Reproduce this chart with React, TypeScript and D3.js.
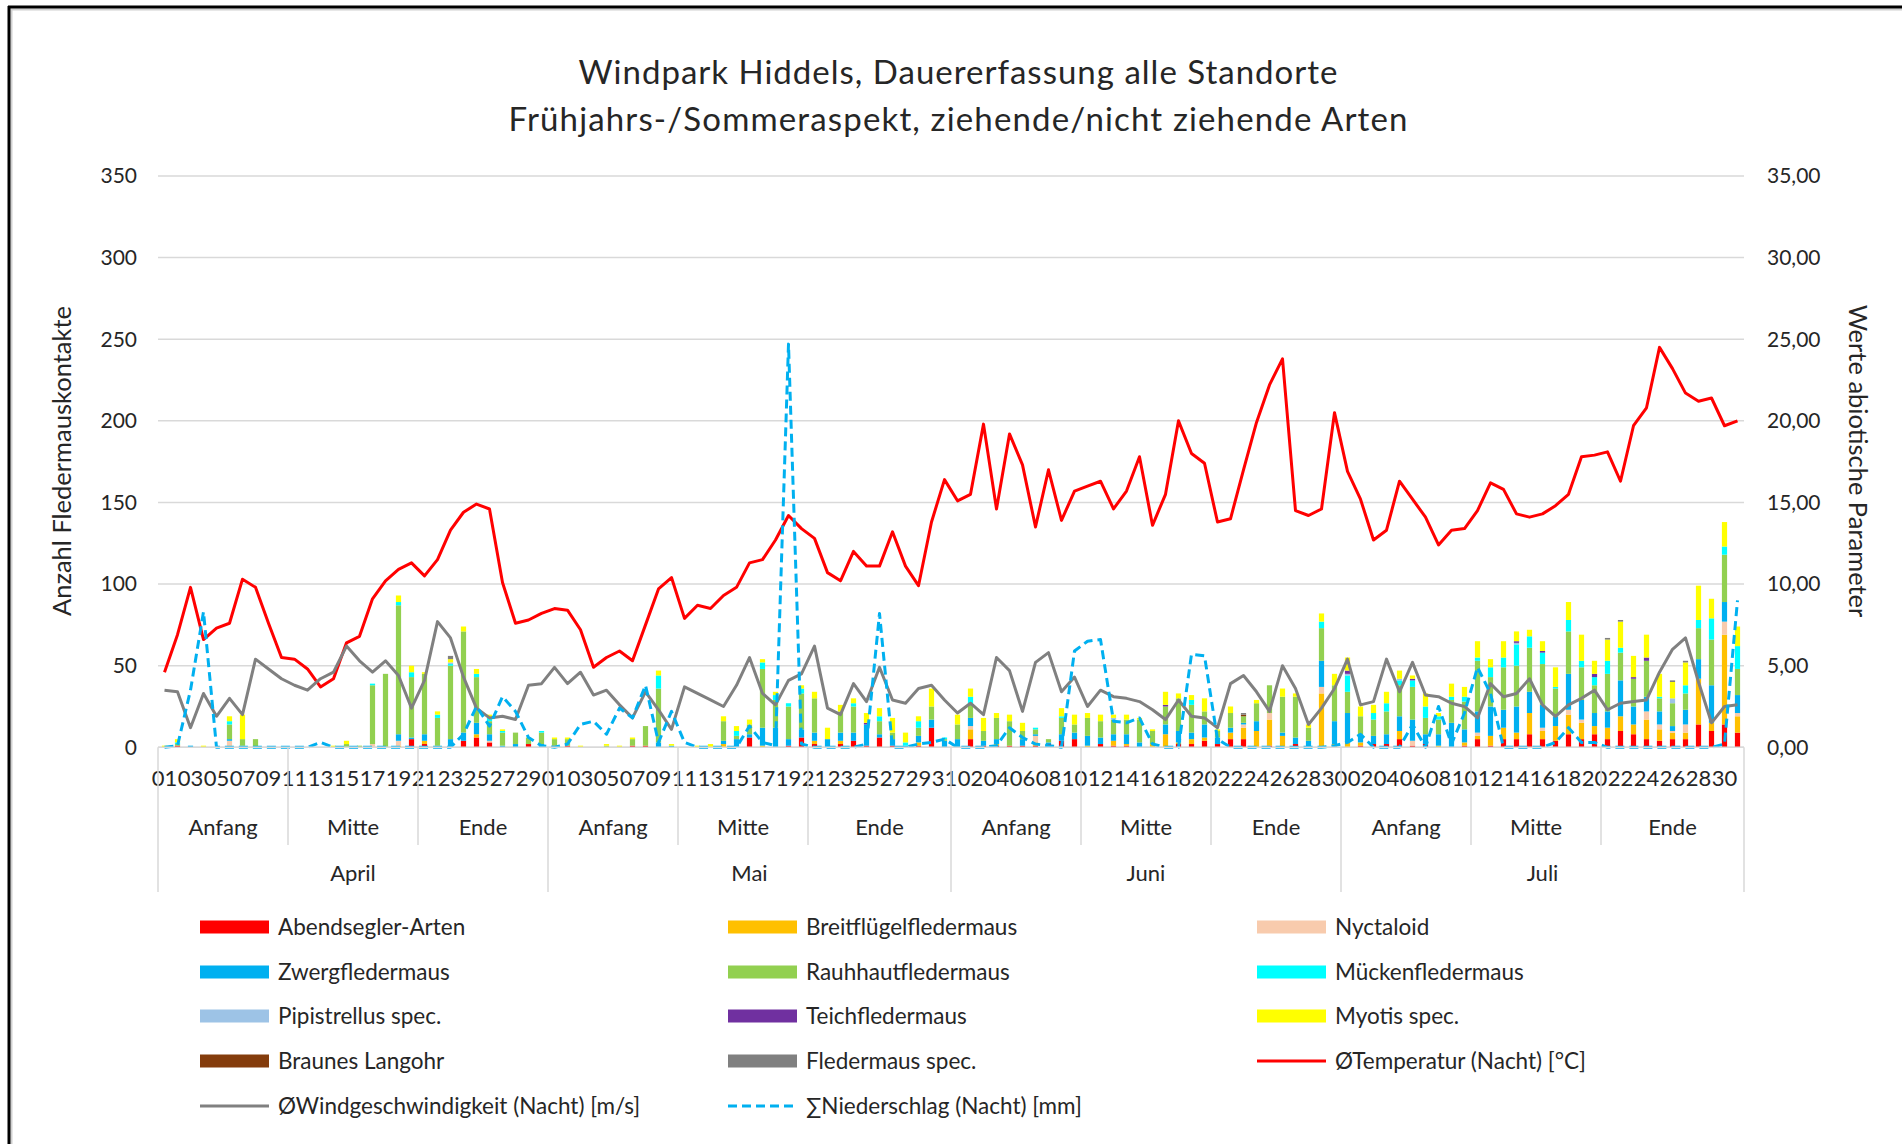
import React from 'react';
import * as d3 from 'd3';

// ---------- categories ----------
const months = ['April', 'Mai', 'Juni', 'Juli'];
const monthDays = [30, 31, 30, 31];
const periods = ['Anfang', 'Mitte', 'Ende'];
const periodStarts = [1, 11, 21];
const yTicks = [0, 50, 100, 150, 200, 250, 300, 350];
const y2Ticks = [0, 5, 10, 15, 20, 25, 30, 35];

// ---------- species (bat contacts per night) ----------
const abendsegler = [
  0,1,0,0,0,0,0,0,0,0, 0,0,0,0,0,0,0,0,0,5, 2,0,0,4,6,3,0,0,2,0,
  1,1,0,0,0,0,1,1,0,0, 0,0,0,0,0,6,0,0,1,6, 2,0,2,4,1,6,1,0,1,12, 0,
  0,5,1,1,1,1,1,2,4, 5,0,2,1,1,0,0,0,2,2, 4,2,5,5,0,1,0,2,0,0, 0,
  0,1,2,2,5,1,2,0,0, 1,5,1,5,5,8,5,4,8,5, 8,5,10,8,5,4,5,5,14,10, 14,9
];
const breitfluegel = [
  0,0,0,0,0,1,1,0,0,0, 0,0,0,0,0,0,0,0,1,0, 2,1,0,0,2,0,0,0,0,0,
  0,0,0,0,0,0,0,0,0,0, 0,0,0,2,0,0,1,0,0,0, 2,0,2,0,0,0,0,0,2,0, 0,
  0,6,0,1,0,0,2,0,0, 0,1,0,3,1,0,2,8,1,3, 2,0,4,7,10,16,7,0,0,33, 2,
  3,2,0,0,5,0,0,1,0, 2,2,6,7,4,13,5,9,12,10, 5,7,9,6,12,7,4,4,28,5, 55,10
];
const nyctaloid = [
  0,0,0,0,0,3,0,0,0,0, 0,0,0,0,0,0,2,0,3,0, 0,0,0,0,0,1,0,0,0,0,
  0,0,0,0,0,0,0,0,0,0, 0,0,0,0,0,0,0,0,0,0, 0,0,0,0,0,0,0,0,0,0, 0,
  0,2,0,0,0,0,4,0,0, 0,0,0,0,0,0,0,0,0,0, 0,0,0,2,0,4,0,0,0,4, 0,
  0,0,0,0,0,3,0,0,0, 0,2,0,0,0,0,2,0,3,2, 0,0,0,0,5,3,1,5,0,0, 8,2
];
const zwerg = [
  0,0,1,0,0,1,0,0,0,0, 0,0,0,0,0,0,0,0,4,1, 4,0,5,5,7,4,1,2,0,2,
  0,0,0,0,0,0,0,0,3,1, 0,0,0,2,5,2,11,12,4,5, 5,5,5,5,13,2,4,1,4,5, 4,
  5,5,3,3,0,4,1,1,4, 4,6,4,4,6,3,0,6,7,4, 8,4,3,1,6,0,2,4,4,16, 14,
  18,5,5,6,9,13,6,7,15, 8,13,18,11,16,13,14,6,22,12, 8,10,22,11,9,8,3,9,12,23, 12,11
];
const rauhhaut = [
  0,1,0,0,0,9,4,5,0,0, 0,0,0,0,2,1,36,45,79,37, 37,17,45,62,28,8,8,7,4,7,
  4,4,0,0,1,0,4,12,33,0, 0,0,0,12,2,6,36,17,20,22, 21,0,13,16,0,8,4,0,5,8, 1,
  9,8,6,13,15,5,3,2,10, 5,11,10,9,9,14,8,11,20,17, 8,4,9,4,11,17,22,25,8,20, 22,
  13,11,10,14,19,20,10,9,14, 17,31,18,26,25,27,25,17,26,20, 17,23,17,17,22,8,14,10,19,28, 29,16
];
const muecken = [
  0,1,0,0,0,2,0,0,0,0, 0,0,0,0,0,0,1,0,2,3, 0,2,1,0,2,2,1,0,0,1,
  0,0,0,0,0,0,0,0,8,0, 0,0,0,0,3,0,4,3,2,3, 0,0,0,2,0,3,0,2,4,0, 1,
  0,5,0,0,0,0,1,0,1, 0,0,0,0,0,0,0,0,0,3, 0,0,0,0,0,0,0,0,0,4, 0,
  10,0,4,5,3,4,7,2,2, 3,2,6,6,13,7,7,1,7,4, 5,8,3,0,0,1,0,5,5,13, 5,14
];
const pipistrellus = [
  0,0,0,0,0,0,0,0,0,0, 0,0,0,0,0,0,0,0,0,0, 0,0,1,0,0,0,0,0,0,0,
  0,0,0,0,0,0,0,0,0,0, 0,0,0,0,0,0,0,0,0,0, 0,0,0,0,0,0,0,0,0,0, 0,
  0,0,0,0,0,0,0,0,0, 0,0,0,1,0,0,0,0,0,0, 0,0,0,0,0,0,0,0,0,0, 0,
  1,0,0,0,1,0,0,0,0, 0,0,0,0,1,0,0,0,0,0, 0,0,0,0,0,0,3,0,0,0, 0,0
];
const teich = [
  0,0,0,0,0,0,0,0,0,0, 0,0,0,0,0,0,0,0,0,0, 0,0,0,0,0,0,0,0,0,0,
  0,0,0,0,0,0,0,0,0,0, 0,0,0,0,0,0,0,0,0,0, 0,0,0,0,1,0,0,0,0,0, 0,
  0,0,0,0,0,0,0,0,0, 0,0,0,0,0,0,0,1,0,0, 0,0,0,0,0,0,0,0,0,0, 0,
  2,0,0,0,0,1,0,0,0, 0,0,0,0,1,0,1,0,0,0, 2,0,0,1,2,0,0,0,0,0, 0,0
];
const myotis = [
  1,2,0,1,0,3,15,0,0,0, 0,0,0,1,2,0,0,0,4,4, 1,2,2,3,3,2,1,0,0,0,
  1,1,1,0,1,1,1,0,3,1, 0,1,2,3,3,3,2,2,0,2, 4,7,4,3,6,5,9,6,3,11, 0,
  6,5,8,3,4,5,0,0,5, 6,3,4,2,3,1,1,8,3,3, 8,1,4,0,2,0,5,2,2,5, 7,
  8,6,5,7,5,2,8,2,8, 6,10,5,10,6,4,6,12,11,16, 8,13,16,13,14,14,10,14,21,12, 15,12
];
const langohr = [
  0,0,0,0,0,0,0,0,0,0, 0,0,0,0,0,0,0,0,0,0, 0,0,0,0,0,0,0,0,0,0,
  0,0,0,0,0,0,0,0,0,0, 0,0,0,0,0,0,0,0,0,0, 0,0,0,0,0,0,0,0,0,0, 0,
  0,0,0,0,0,0,0,0,0, 0,0,0,0,0,0,0,0,0,0, 0,0,0,1,0,0,0,0,0,0, 0,
  0,0,0,0,0,0,0,0,0, 0,0,0,0,0,0,0,0,0,0, 0,0,0,0,0,0,0,0,0,0, 0,0
];
const fledermausSpec = [
  0,0,0,0,0,0,0,0,0,0, 0,0,0,0,0,0,0,0,0,0, 0,0,2,0,0,0,0,0,0,0,
  0,0,0,0,0,0,0,0,0,0, 0,0,0,0,0,0,0,0,0,0, 0,0,0,0,0,0,0,0,0,0, 0,
  0,0,0,0,0,0,0,0,0, 0,0,0,0,0,0,0,0,0,0, 0,0,0,1,0,0,0,0,0,0, 0,
  0,0,0,0,0,0,0,0,0, 0,0,0,0,0,0,0,0,0,0, 0,1,1,0,0,0,1,1,0,0, 0,0
];

// ---------- abiotic parameters ----------
const temperature = [
  4.6,6.9,9.8,6.6,7.3,7.6,10.3,9.8,7.6,5.5, 5.4,4.8,3.7,4.2,6.4,6.8,9.1,10.2,10.9,11.3,
  10.5,11.5,13.3,14.4,14.9,14.6,10.1,7.6,7.8,8.2,
  8.5,8.4,7.2,4.9,5.5,5.9,5.3,7.5,9.7,10.4, 7.9,8.7,8.5,9.3,9.8,11.3,11.5,12.7,14.2,13.4,
  12.8,10.7,10.2,12.0,11.1,11.1,13.2,11.1,9.9,13.8, 16.4,
  15.1,15.5,19.8,14.6,19.2,17.3,13.5,17.0,13.9, 15.7,16.0,16.3,14.6,15.7,17.8,13.6,15.5,20.0,18.0,
  17.4,13.8,14.0,17.0,19.9,22.2,23.8,14.5,14.2,14.6, 20.5,
  16.9,15.2,12.7,13.3,16.3,15.2,14.1,12.4,13.3, 13.4,14.5,16.2,15.8,14.3,14.1,14.3,14.8,15.5,17.8,
  17.9,18.1,16.3,19.7,20.8,24.5,23.2,21.7,21.2,21.4, 19.7,20.0
];
const wind = [
  3.5,3.4,1.2,3.3,1.9,3.0,2.0,5.4,4.8,4.2, 3.8,3.5,4.2,4.6,6.2,5.3,4.6,5.3,4.4,2.4,
  4.1,7.7,6.7,4.3,2.4,1.8,1.9,1.7,3.8,3.9,
  4.9,3.9,4.6,3.2,3.5,2.6,1.8,3.4,2.3,1.1, 3.7,3.3,2.9,2.5,3.8,5.5,3.3,2.6,4.1,4.5,
  6.2,2.4,2.0,3.9,2.8,4.9,2.9,2.7,3.6,3.8, 2.9,
  2.1,2.7,2.0,5.5,4.7,2.2,5.2,5.8,3.4, 4.3,2.5,3.5,3.1,3.0,2.8,2.3,1.7,2.9,1.9,
  1.8,1.2,3.9,4.4,3.4,2.2,5.0,3.6,1.4,2.4, 3.6,
  5.4,2.6,2.8,5.4,3.4,5.2,3.2,3.1,2.7, 2.5,1.8,3.9,3.1,3.3,4.2,2.6,1.9,2.6,3.0,
  3.5,2.3,2.7,2.8,2.9,4.6,6.0,6.7,4.0,1.5, 2.5,2.6
];
const precipitation = [
  0,0.1,3.5,8.3,0,0,0,0,0,0, 0,0,0.3,0,0,0,0,0,0,0, 0,0,0,0.8,2.5,1.3,3.1,2.2,0.6,0.1,
  0,0.2,1.4,1.6,0.8,2.4,1.8,3.8,0.3,2.2, 0.3,0,0,0,0,1.3,0.3,0.1,24.7,0.2,
  0,0,0,0,0.2,8.2,0,0,0.2,0.3, 0.5,
  0,0,0,0.1,1.2,0.6,0.2,0.1,0, 5.9,6.5,6.6,1.6,1.5,1.8,0.2,0,0,5.7,
  5.6,0.5,0,0,0,0,0,0,0,0, 0.1,
  0.3,0.8,0,0,0,1.4,0,2.5,0.2, 2.1,4.9,3.3,0,0,0,0,0.3,1.2,0.3,
  0.3,0,0,0,0,0,0,0,0,0, 0.2,9.0
];

const speciesNames = [
  'Abendsegler-Arten', 'Breitflügelfledermaus', 'Nyctaloid', 'Zwergfledermaus', 'Rauhhautfledermaus',
  'Mückenfledermaus', 'Pipistrellus spec.', 'Teichfledermaus', 'Myotis spec.', 'Braunes Langohr', 'Fledermaus spec.'
];
const speciesData = [abendsegler, breitfluegel, nyctaloid, zwerg, rauhhaut, muecken, pipistrellus, teich, myotis, langohr, fledermausSpec];
const speciesColors = ['#FF0000', '#FFC000', '#F8CBAD', '#00B0F0', '#92D050', '#00FFFF', '#9DC3E6', '#7030A0', '#FFFF00', '#843C0C', '#808080'];
const lineNames = ['ØTemperatur (Nacht) [°C]', 'ØWindgeschwindigkeit (Nacht) [m/s]', '∑Niederschlag (Nacht) [mm]'];
const lineColors = ['#FF0000', '#808080', '#00B0F0'];

const FONT = 'Lato, "Open Sans", sans-serif';
const TXT = '#262626';

export default function App() {
  const W = 1902, H = 1144;
  const left = 158, right = 1744, top = 176, bottom = 747.3;

  const days: { m: number; d: number }[] = [];
  months.forEach((_, mi) => {
    for (let d = 1; d <= monthDays[mi]; d++) days.push({ m: mi, d });
  });
  const n = days.length;

  const x = d3.scaleBand<number>().domain(d3.range(n)).range([left, right]).padding(0);
  const bw = x.bandwidth();
  const barW = bw / 2.5;
  const y = d3.scaleLinear().domain([0, 350]).range([bottom, top]);
  const y2 = d3.scaleLinear().domain([0, 35]).range([bottom, top]);

  const keys = speciesNames.map((_, k) => 'k' + k);
  const rows = days.map((_, i) => {
    const r: Record<string, number> = {};
    speciesData.forEach((arr, k) => (r['k' + k] = arr[i] || 0));
    return r;
  });
  const series = d3.stack<Record<string, number>>().keys(keys)(rows);

  const cx = (i: number) => (x(i) as number) + bw / 2;
  const line = d3.line<number>().x((_, i) => cx(i)).y(v => y2(v)).curve(d3.curveLinear);

  const monthStart: number[] = [];
  let acc = 0;
  monthDays.forEach(md => { monthStart.push(acc); acc += md; });

  const legendItems = [
    ...speciesNames.map((name, k) => ({ name, color: speciesColors[k], kind: 'bar', dash: false })),
    ...lineNames.map((name, k) => ({ name, color: lineColors[k], kind: 'line', dash: k === 2 })),
  ];
  const legColX = [200, 728, 1257];
  const legRowY = [927, 972, 1016, 1061, 1106];

  return (
    <svg width={W} height={H} style={{ position: 'absolute', left: 0, top: 0, background: '#fff' }} fontFamily={FONT}>
      <rect x={0} y={0} width={W} height={H} fill="#fff" />
      {/* frame */}
      <line x1={10.5} y1={9.5} x2={W} y2={9.5} stroke="#d0d0d0" strokeWidth={2} />
      <line x1={11.5} y1={9} x2={11.5} y2={H} stroke="#d0d0d0" strokeWidth={2} />
      <line x1={8} y1={7} x2={W} y2={7} stroke="#000" strokeWidth={3} />
      <line x1={9} y1={6} x2={9} y2={H} stroke="#000" strokeWidth={3} />

      {/* title */}
      <text x={958} y={84} textAnchor="middle" fontSize={33} fill={TXT} textLength={759} lengthAdjust="spacing">Windpark Hiddels, Dauererfassung alle Standorte</text>
      <text x={958} y={131} textAnchor="middle" fontSize={33} fill={TXT} textLength={899} lengthAdjust="spacing">Frühjahrs-/Sommeraspekt, ziehende/nicht ziehende Arten</text>

      {/* gridlines */}
      {yTicks.map(t => (
        <line key={'g' + t} x1={left} x2={right} y1={y(t)} y2={y(t)} stroke="#d9d9d9" strokeWidth={1.5} />
      ))}
      {yTicks.map(t => (
        <text key={'l' + t} x={137} y={y(t)} dy="0.35em" textAnchor="end" fontSize={21} fill={TXT}>{t}</text>
      ))}
      {y2Ticks.map(t => (
        <text key={'r' + t} x={1767} y={y2(t)} dy="0.35em" textAnchor="start" fontSize={21} fill={TXT}>{t.toFixed(2).replace('.', ',')}</text>
      ))}
      {/* axis titles */}
      <text transform={`translate(62,461) rotate(-90)`} textAnchor="middle" dy="0.35em" fontSize={25.5} fill={TXT}>Anzahl Fledermauskontakte</text>
      <text transform={`translate(1858,461) rotate(90)`} textAnchor="middle" dy="0.35em" fontSize={25.5} fill={TXT}>Werte abiotische Parameter</text>

      {/* bars */}
      {series.map((s, k) => (
        <g key={'s' + k} fill={speciesColors[k]}>
          {s.map((d, i) => {
            const h = y(d[0]) - y(d[1]);
            if (h <= 0) return null;
            return <rect key={i} x={(x(i) as number) + (bw - barW) / 2} y={y(d[1])} width={barW} height={h} />;
          })}
        </g>
      ))}

      {/* lines */}
      <path d={line(temperature) || ''} fill="none" stroke={lineColors[0]} strokeWidth={3} strokeLinejoin="round" />
      <path d={line(wind) || ''} fill="none" stroke={lineColors[1]} strokeWidth={3} strokeLinejoin="round" />
      <path d={line(precipitation) || ''} fill="none" stroke={lineColors[2]} strokeWidth={3} strokeDasharray="9,5" strokeLinejoin="round" />

      {/* category axis */}
      <line x1={left} x2={right} y1={bottom} y2={bottom} stroke="#d9d9d9" strokeWidth={1.5} />
      {days.map((dd, i) => (i % 2 === 0 ? (
        <text key={'d' + i} x={cx(i)} y={778} dy="0.35em" textAnchor="middle" fontSize={22} fill={TXT}>{String(dd.d).padStart(2, '0')}</text>
      ) : null))}
      {months.map((m, mi) => {
        const s = monthStart[mi];
        const e = s + monthDays[mi];
        const x0 = x(s) as number;
        const x1 = e >= n ? right : (x(e) as number);
        return (
          <g key={'m' + mi}>
            <line x1={x0} x2={x0} y1={bottom} y2={892} stroke="#d9d9d9" strokeWidth={1.5} />
            {periods.map((p, pi) => {
              const ps = s + periodStarts[pi] - 1;
              const pe = pi < 2 ? s + periodStarts[pi + 1] - 1 : e;
              const px0 = x(ps) as number;
              const px1 = pe >= n ? right : (x(pe) as number);
              return (
                <g key={'p' + pi}>
                  {pi > 0 ? <line x1={px0} x2={px0} y1={bottom} y2={845} stroke="#d9d9d9" strokeWidth={1.5} /> : null}
                  <text x={(px0 + px1) / 2} y={827} dy="0.35em" textAnchor="middle" fontSize={22} fill={TXT}>{p}</text>
                </g>
              );
            })}
            <text x={(x0 + x1) / 2} y={873} dy="0.35em" textAnchor="middle" fontSize={22} fill={TXT}>{m}</text>
          </g>
        );
      })}
      <line x1={right} x2={right} y1={bottom} y2={892} stroke="#d9d9d9" strokeWidth={1.5} />

      {/* legend */}
      {legendItems.map((it, k) => {
        const col = k % 3;
        const row = Math.floor(k / 3);
        const lx = legColX[col];
        const ly = legRowY[row];
        return (
          <g key={'lg' + k}>
            {it.kind === 'bar' ? (
              <rect x={lx} y={ly - 6.5} width={69} height={13} fill={it.color} />
            ) : (
              <line x1={lx} x2={lx + 69} y1={ly} y2={ly} stroke={it.color} strokeWidth={3} strokeDasharray={it.dash ? '9,5' : undefined} />
            )}
            <text x={lx + 78} y={ly} dy="0.35em" fontSize={22.5} fill={TXT}>{it.name}</text>
          </g>
        );
      })}
    </svg>
  );
}
